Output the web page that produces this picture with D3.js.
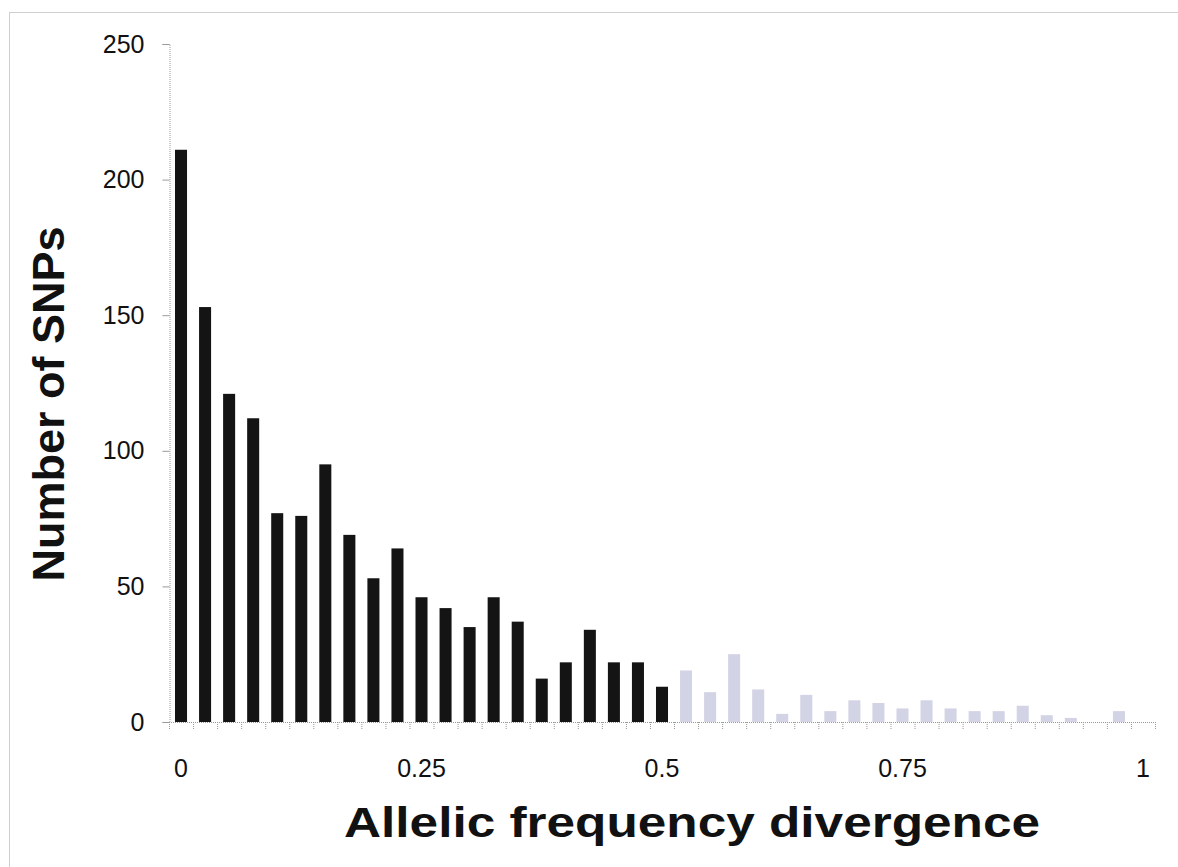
<!DOCTYPE html>
<html>
<head>
<meta charset="utf-8">
<script src="https://cdn.jsdelivr.net/npm/d3@7"></script>
<style>
  html, body { margin: 0; padding: 0; background: #fff; }
  svg { display: block; }
  text { font-family: "Liberation Sans", Arial, Helvetica, sans-serif; fill: #111; }
</style>
</head>
<body>
<svg id="chart" width="1178" height="867"></svg>
<script>
// Bin centres (allelic frequency divergence) and SNP counts per bin
const bins = d3.range(41).map(i => +(i * 0.025).toFixed(3));
const countsBlack = [211, 153, 121, 112, 77, 76, 95, 69, 53, 64, 46, 42, 35, 46, 37, 16, 22, 34, 22, 22, 13];
const countsGray = [19, 11, 25, 12, 3, 10, 4, 8, 7, 5, 8, 5, 4, 4, 6, 2.5, 1.5, 0, 4, 0];
const yTicks = [0, 50, 100, 150, 200, 250];
const xTickLabels = ["0", "0.25", "0.5", "0.75", "1"];
const xTickBins = [0, 0.25, 0.5, 0.75, 1];

const svg = d3.select("#chart");

// frame
svg.append("rect").attr("x", 9.5).attr("y", 12.5).attr("width", 1200).attr("height", 900)
  .attr("fill", "none").attr("stroke", "#cfcfcf").attr("stroke-width", 1);

const x = d3.scaleBand().domain(bins).range([169, 1155]).paddingInner(0.5).paddingOuter(0.25);
const y = d3.scaleLinear().domain([0, 250]).range([722, 44]);

const data = bins.map((b, i) => ({
  bin: b,
  value: i < countsBlack.length ? countsBlack[i] : (countsGray[i - countsBlack.length] || 0),
  black: i < countsBlack.length
}));

// bars
svg.append("g").selectAll("rect").data(data.filter(d => d.value > 0)).join("rect")
  .attr("x", d => x(d.bin))
  .attr("width", x.bandwidth())
  .attr("y", d => y(d.value))
  .attr("height", d => y(0) - y(d.value))
  .attr("fill", d => d.black ? "#141414" : "#d2d3e4");

// y axis
const yAxis = d3.axisLeft(y).tickValues(yTicks).tickSize(7).tickPadding(18);
const gy = svg.append("g").attr("transform", "translate(169.5,0)").call(yAxis);
gy.select(".domain").attr("stroke", "#9a9a9a").attr("stroke-dasharray", "1,1");
gy.selectAll(".tick line").attr("stroke", "#9a9a9a");
gy.selectAll(".tick text").attr("font-size", 25).attr("fill", "#111")
  .attr("font-family", "Liberation Sans, Arial, sans-serif");

// x axis baseline with minor ticks between bins
const step = x.step();
const edges = d3.range(bins.length + 1).map(i => x.range()[0] + i * step);
const gx = svg.append("g");
gx.append("line").attr("x1", 169).attr("x2", 1155).attr("y1", 722.5).attr("y2", 722.5)
  .attr("stroke", "#9a9a9a").attr("stroke-dasharray", "1,1");
gx.selectAll("line.mt").data(edges).join("line").attr("class", "mt")
  .attr("x1", d => d + 0.5).attr("x2", d => d + 0.5).attr("y1", 722).attr("y2", 729)
  .attr("stroke", "#9a9a9a").attr("stroke-dasharray", "1,1");
gx.selectAll("text").data(xTickBins).join("text")
  .attr("x", (d, i) => x(d) + x.bandwidth() / 2)
  .attr("y", 777)
  .attr("text-anchor", "middle")
  .attr("font-size", 25)
  .text((d, i) => xTickLabels[i]);

// axis titles
svg.append("text").attr("x", 692).attr("y", 837).attr("text-anchor", "middle")
  .attr("font-size", 43).attr("font-weight", "bold")
  .attr("textLength", 696).attr("lengthAdjust", "spacingAndGlyphs")
  .text("Allelic frequency divergence");
svg.append("text").attr("transform", "translate(64,404) rotate(-90)").attr("text-anchor", "middle")
  .attr("font-size", 45).attr("font-weight", "bold").text("Number of SNPs");
</script>
</body>
</html>
